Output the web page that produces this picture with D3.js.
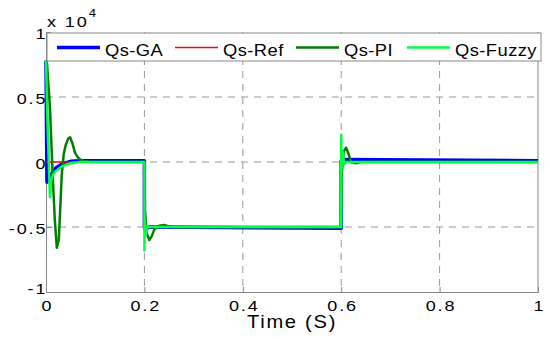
<!DOCTYPE html>
<html>
<head>
<meta charset="utf-8">
<script src="https://cdn.jsdelivr.net/npm/d3@7"></script>
<style>
  body { margin: 0; background: #fff; }
  text { font-family: "Liberation Sans", Arial, sans-serif; fill: #000; }
</style>
</head>
<body>
<div id="plot-container"></div>
<script>
// Values in units of 1e4 (as shown on the axis)
const xTicks = [0, 0.2, 0.4, 0.6, 0.8, 1];
const yTicks = [-1, -0.5, 0, 0.5, 1];
const seriesNames = ["Qs-GA", "Qs-Ref", "Qs-PI", "Qs-Fuzzy"];

const gaT = [0, 0.002, 0.006, 0.01, 0.015, 0.02, 0.03, 0.04, 0.05, 0.07, 0.1, 0.2, 0.2, 0.202, 0.21, 0.6, 0.6, 0.602, 1];
const gaV = [0.78, -0.155, -0.13, -0.1, -0.07, -0.045, -0.02, -0.005, 0.005, 0.01, 0.01, 0.01, -0.5, -0.52, -0.5, -0.51, 0.01, 0.02, 0.01];

const refT = [0, 0.2, 0.2, 0.6, 0.6, 1];
const refV = [0, 0, -0.5, -0.5, 0, 0];

const piT = [0, 0.002, 0.008, 0.014, 0.018, 0.022, 0.026, 0.032, 0.036, 0.04, 0.045, 0.049, 0.054, 0.059, 0.064, 0.069, 0.08, 0.09, 0.2,
  0.201, 0.205, 0.21, 0.215, 0.22, 0.23, 0.24, 0.25, 0.26, 0.6, 0.601, 0.605, 0.61, 0.615, 0.62, 0.63, 0.64, 1];
const piV = [0.78, 0.76, 0.42, -0.14, -0.45, -0.66, -0.6, -0.1, 0.06, 0.13, 0.18, 0.19, 0.14, 0.07, 0.04, 0.02, 0.005, 0, 0,
  -0.38, -0.55, -0.6, -0.57, -0.52, -0.49, -0.485, -0.495, -0.5, -0.5, -0.1, 0.08, 0.11, 0.06, 0, -0.01, 0, 0];

const fzT = [0, 0.003, 0.008, 0.01, 0.014, 0.02, 0.03, 0.04, 0.05, 0.07, 0.1, 0.2, 0.2, 0.201, 0.203, 0.206, 0.21,
  0.6, 0.6, 0.601, 0.603, 0.606, 0.61, 1];
const fzV = [0.78, 0.3, -0.27, -0.15, -0.1, -0.07, -0.04, -0.02, -0.01, 0, 0, 0, -0.68, -0.45, -0.56, -0.5, -0.5,
  -0.5, 0.21, -0.05, 0.08, -0.02, 0, 0];

const margin = { top: 32, right: 12, bottom: 47, left: 46 };
const width = 550 - margin.left - margin.right;
const height = 339 - margin.top - margin.bottom;

const svg = d3.select("#plot-container")
    .append("svg")
    .attr("width", 550)
    .attr("height", 339)
    .append("g")
    .attr("transform", `translate(${margin.left},${margin.top})`);

const x = d3.scaleLinear().domain([0, 1]).range([0, width]);
const y = d3.scaleLinear().domain([-1, 1]).range([height, 0]);

// grid
svg.selectAll(".gx")
    .data(xTicks.filter(d => d > 0 && d < 1))
    .enter().append("line")
    .attr("x1", d => x(d)).attr("x2", d => x(d))
    .attr("y1", 0).attr("y2", height)
    .attr("stroke", "#999").attr("stroke-dasharray", "7,6");

svg.selectAll(".gy")
    .data(yTicks.filter(d => d > -1 && d < 1))
    .enter().append("line")
    .attr("x1", 0).attr("x2", width)
    .attr("y1", d => y(d)).attr("y2", d => y(d))
    .attr("stroke", "#999").attr("stroke-dasharray", "7,6");

// axes (the original figure's text is a bit stretched and widely spaced)
const xAxis = svg.append("g")
    .attr("transform", `translate(0,${height})`)
    .call(d3.axisBottom(x).tickValues(xTicks).tickSize(-5).tickPadding(8).tickFormat(d => String(d)));
const yAxis = svg.append("g")
    .call(d3.axisLeft(y).tickValues(yTicks).tickSize(-5).tickPadding(1).tickFormat(d => String(d)));
[xAxis, yAxis].forEach(a => {
    a.select(".domain").attr("stroke", "#888");
    a.selectAll(".tick line").attr("stroke", "#888");
    a.selectAll(".tick text")
        .attr("fill", "#000")
        .attr("transform", "scale(1.2,1)")
        .style("letter-spacing", "1.6px")
        .style("font-size", "15px")
        .style("font-family", "'Liberation Sans', Arial, sans-serif");
});
yAxis.selectAll(".tick text").attr("dy", d => d === -1 ? "0.1em" : "0.4em").attr("dx", "2.2px");
xAxis.selectAll(".tick text").attr("dx", "0.8px");

// right border
svg.append("line")
    .attr("x1", width).attr("x2", width).attr("y1", 0).attr("y2", height)
    .attr("stroke", "#888");

// exponent label
const expo = svg.append("text")
    .attr("transform", `translate(1,-5) scale(1.25,1)`)
    .style("letter-spacing", "1.5px")
    .style("font-size", "14.5px");
expo.append("tspan").text("x 10");
expo.append("tspan").attr("dy", -10).style("font-size", "10.5px").text("4");

// lines
const line = d3.line().x(d => x(d[0])).y(d => y(d[1]));
const zip = (t, v) => t.map((d, i) => [d, v[i]]);

const series = [
    { data: zip(gaT, gaV), color: "#0000ff", w: 3.5 },
    { data: zip(refT, refV), color: "#ff0000", w: 1.5 },
    { data: zip(piT, piV), color: "#008000", w: 2.5 },
    { data: zip(fzT, fzV), color: "#00ff40", w: 2.5 }
];

svg.append("g").selectAll("path")
    .data(series)
    .enter().append("path")
    .attr("d", d => line(d.data))
    .attr("fill", "none")
    .attr("stroke", d => d.color)
    .attr("stroke-width", d => d.w)
    .attr("stroke-linejoin", "round");

// legend
const leg = svg.append("g");
leg.append("rect")
    .attr("x", 1).attr("y", 1).attr("width", width + 2).attr("height", 28)
    .attr("fill", "#fff").attr("stroke", "#888");
const legX = [11, 129, 250, 361];
series.forEach((s, i) => {
    leg.append("line")
        .attr("x1", legX[i]).attr("x2", legX[i] + 43)
        .attr("y1", 15.5).attr("y2", 15.5)
        .attr("stroke", s.color).attr("stroke-width", s.w);
    leg.append("text")
        .attr("transform", `translate(${legX[i] + 48},23.5) scale(1.08,1)`)
        .style("letter-spacing", "0.4px")
        .style("font-size", "17px")
        .text(seriesNames[i]);
});

// x label
svg.append("text")
    .attr("transform", `translate(${width / 2},${height + 36}) scale(1.15,1)`)
    .attr("text-anchor", "middle")
    .style("letter-spacing", "1.5px")
    .style("font-size", "17.5px")
    .text("Time (S)");
</script>
</body>
</html>
